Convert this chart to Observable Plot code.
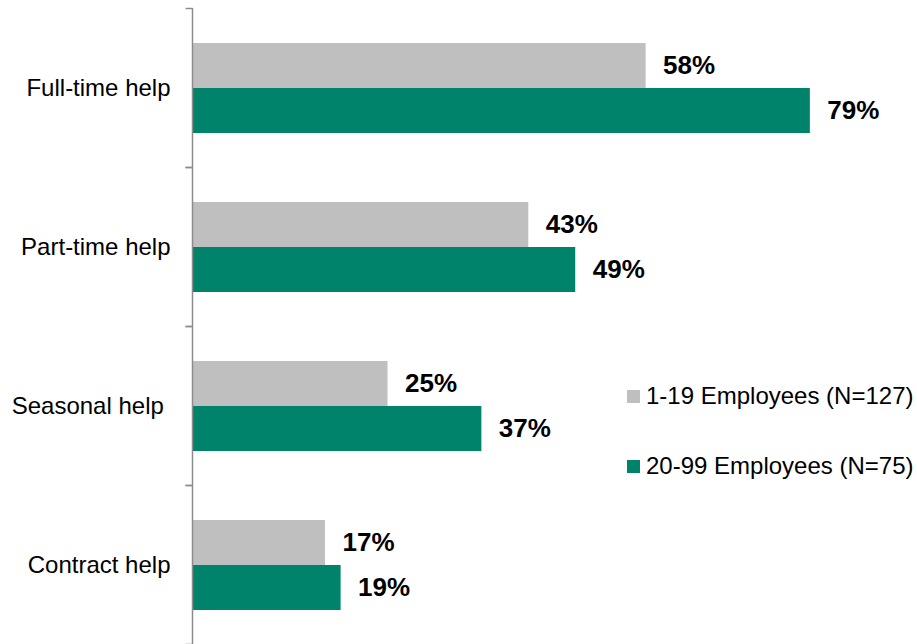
<!DOCTYPE html>
<html>
<head>
<meta charset="utf-8">
<script src="https://cdn.jsdelivr.net/npm/d3@7"></script>
<script src="https://cdn.jsdelivr.net/npm/@observablehq/plot@0.6"></script>
<style>
  html, body { margin: 0; padding: 0; background: #fff; }
  #wrap { position: relative; width: 917px; height: 644px; font-family: "Liberation Sans", Arial, sans-serif; }
  #legend { position: absolute; left: 627px; top: 379px; font-size: 24px; color: #000; white-space: nowrap; }
  #legend .item { display: flex; align-items: center; height: 34px; margin-bottom: 36px; }
  #legend .sw { width: 13px; height: 13px; margin-right: 6px; }
</style>
</head>
<body>
<div id="wrap">
  <div id="chart"></div>
  <div id="legend"></div>
</div>
<script>
const categories = ["Full-time help", "Part-time help", "Seasonal help\u00a0", "Contract help"];
const groups = ["1-19 Employees (N=127)", "20-99 Employees (N=75)"];
const small = [58, 43, 25, 17];
const large = [79, 49, 37, 19];
const colors = ["#bfbfbf", "#00836b"];

const data = [];
categories.forEach((c, i) => {
  data.push({category: c, group: groups[0], value: small[i]});
  data.push({category: c, group: groups[1], value: large[i]});
});

const tickSymbol = {
  draw(context) {
    context.moveTo(-7, 0);
    context.lineTo(0, 0);
  }
};

const plot = Plot.plot({
  width: 917,
  height: 644,
  marginTop: 8,
  marginBottom: 0,
  marginLeft: 192,
  marginRight: 0,
  style: {fontFamily: "'Liberation Sans', Arial, sans-serif", background: "#fff"},
  x: {domain: [0, 92.7], axis: null},
  fy: {domain: categories, padding: 0, axis: null},
  y: {domain: groups, paddingInner: 0, paddingOuter: 0.747, axis: null},
  color: {domain: groups, range: colors},
  marks: [
    Plot.barX(data, {fy: "category", y: "group", x: "value", fill: "group"}),
    Plot.ruleX([0], {stroke: "#8c8c8c", strokeWidth: 1.5}),
    Plot.dot(categories, {fy: d => d, frameAnchor: "top-left", symbol: tickSymbol, stroke: "#8c8c8c", strokeWidth: 1.5, fill: "none"}),
    Plot.dot(categories, {fy: d => d, frameAnchor: "bottom-left", symbol: tickSymbol, stroke: "#8c8c8c", strokeWidth: 1.5, fill: "none"}),
    Plot.text(categories, {fy: d => d, text: d => d, frameAnchor: "left", dx: -22, textAnchor: "end", fontSize: 24, fill: "#000"}),
    Plot.text(data, {fy: "category", y: "group", x: "value", text: d => d.value + "%", dx: 17, textAnchor: "start", fontSize: 26, fontWeight: "bold", fill: "#000"})
  ]
});
document.getElementById("chart").appendChild(plot);

const legend = document.getElementById("legend");
groups.forEach((g, i) => {
  const item = document.createElement("div");
  item.className = "item";
  const sw = document.createElement("span");
  sw.className = "sw";
  sw.style.background = colors[i];
  const t = document.createElement("span");
  t.textContent = g;
  item.appendChild(sw);
  item.appendChild(t);
  legend.appendChild(item);
});
</script>
</body>
</html>
